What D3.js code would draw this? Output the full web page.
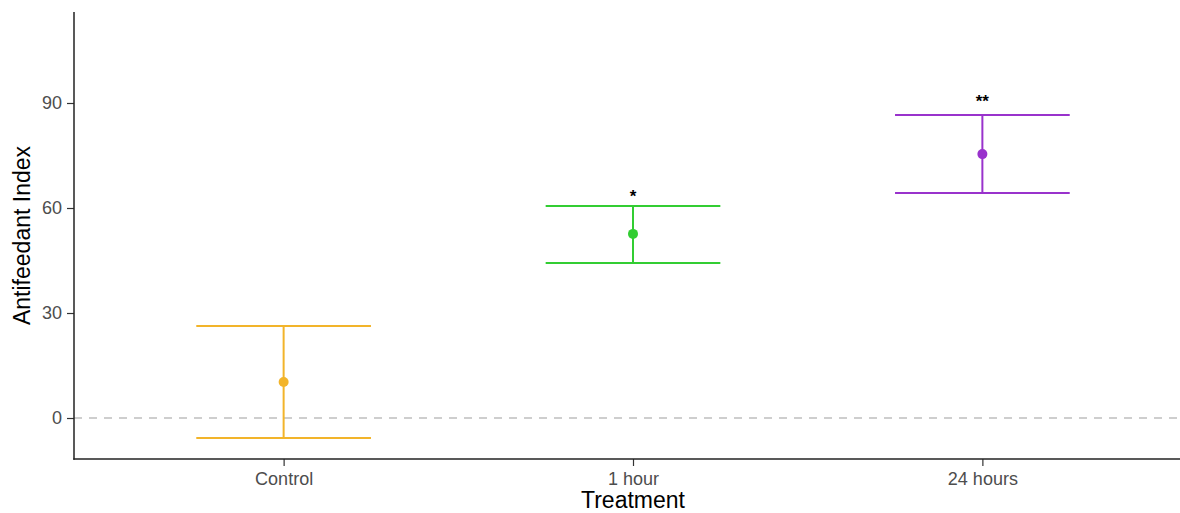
<!DOCTYPE html>
<html>
<head>
<meta charset="utf-8">
<script src="https://cdn.jsdelivr.net/npm/d3@7"></script>
<style>
  html, body { margin: 0; padding: 0; background: #fff; }
  svg { display: block; font-family: "Liberation Sans", Arial, Helvetica, sans-serif; }
</style>
</head>
<body>
<svg id="chart" width="1180" height="513"></svg>
<script>
// Treatment groups and antifeedant index summary (mean with error range)
const treatments = ["Control", "1 hour", "24 hours"];
const means = [10.3, 52.6, 75.4];
const lowers = [-5.7, 44.3, 64.3];
const uppers = [26.3, 60.6, 86.6];
const colors = ["#F2B42A", "#32CD32", "#9932CC"];
const sigLabels = ["", "*", "**"];
const sigPositions = [null, 63.3, 90.5];
const yTicks = [0, 30, 60, 90];

const svg = d3.select("#chart");
const panel = { left: 74, right: 1192, top: 12, bottom: 459 };

const x = d3.scalePoint().domain(treatments).range([panel.left, panel.right]).padding(0.6);
const y = d3.scaleLinear().domain([-11.71, 116]).range([panel.bottom, panel.top]);
const halfWidth = x.step() * 0.25;

const rows = treatments.map((t, i) => ({
  t, mean: means[i], lo: lowers[i], hi: uppers[i], color: colors[i],
  sig: sigLabels[i], sigY: sigPositions[i]
}));

// Reference line at zero
svg.append("line")
  .attr("x1", panel.left).attr("x2", panel.right)
  .attr("y1", y(0)).attr("y2", y(0))
  .attr("stroke", "#BEBEBE").attr("stroke-width", 1.6)
  .attr("stroke-dasharray", "8,7");

// Error bars with mean points
const g = svg.append("g");
rows.forEach(d => {
  const cx = x(d.t);
  g.append("line").attr("x1", cx).attr("x2", cx)
    .attr("y1", y(d.lo)).attr("y2", y(d.hi))
    .attr("stroke", d.color).attr("stroke-width", 2);
  [d.lo, d.hi].forEach(v => {
    g.append("line").attr("x1", cx - halfWidth).attr("x2", cx + halfWidth)
      .attr("y1", y(v)).attr("y2", y(v))
      .attr("stroke", d.color).attr("stroke-width", 2);
  });
  g.append("circle").attr("cx", cx).attr("cy", y(d.mean)).attr("r", 5)
    .attr("fill", d.color);
  if (d.sig) {
    g.append("text").attr("x", cx).attr("y", y(d.sigY))
      .attr("text-anchor", "middle").attr("dominant-baseline", "central")
      .attr("font-size", 17).attr("font-weight", "bold").attr("fill", "#000")
      .text(d.sig);
  }
});

// Axes
const yAxis = d3.axisLeft(y).tickValues(yTicks).tickSize(7).tickPadding(5).tickFormat(d3.format("d"));
const yg = svg.append("g").attr("transform", `translate(${panel.left},0)`).call(yAxis);
yg.select(".domain").remove();
yg.selectAll(".tick line").attr("stroke", "#333").attr("stroke-width", 1.2);
yg.selectAll(".tick text").attr("fill", "#4D4D4D").attr("font-size", 18)
  .attr("font-family", "Liberation Sans, Arial, sans-serif");

const xAxis = d3.axisBottom(x).tickSize(7).tickPadding(6);
const xg = svg.append("g").attr("transform", `translate(0,${panel.bottom})`).call(xAxis);
xg.select(".domain").remove();
xg.selectAll(".tick line").attr("stroke", "#333").attr("stroke-width", 1.2);
xg.selectAll(".tick text").attr("fill", "#4D4D4D").attr("font-size", 18)
  .attr("font-family", "Liberation Sans, Arial, sans-serif");

// Axis lines
svg.append("line").attr("x1", panel.left).attr("x2", panel.left)
  .attr("y1", panel.top).attr("y2", panel.bottom + 0.7)
  .attr("stroke", "#222").attr("stroke-width", 1.5);
svg.append("line").attr("x1", panel.left - 0.7).attr("x2", panel.right)
  .attr("y1", panel.bottom).attr("y2", panel.bottom)
  .attr("stroke", "#222").attr("stroke-width", 1.5);

// Axis titles
svg.append("text").attr("x", x("1 hour")).attr("y", 508)
  .attr("text-anchor", "middle").attr("font-size", 23).attr("fill", "#000")
  .text("Treatment");
svg.append("text")
  .attr("transform", `translate(30,${(panel.top + panel.bottom) / 2}) rotate(-90)`)
  .attr("text-anchor", "middle").attr("font-size", 23).attr("fill", "#000")
  .text("Antifeedant Index");
</script>
</body>
</html>
